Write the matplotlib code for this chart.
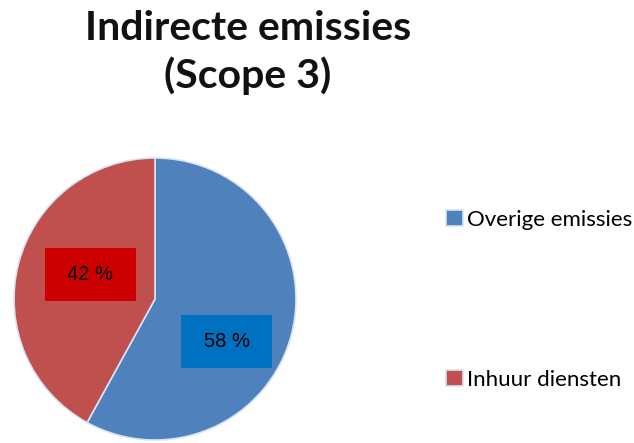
import matplotlib
matplotlib.use("Agg")
import matplotlib.pyplot as plt
from matplotlib.patches import Rectangle

title = "Indirecte emissies\n(Scope 3)"
categories = ["Overige emissies", "Inhuur diensten"]
values = [58, 42]
pct_labels = ["58 %", "42 %"]
colors = ["#4f81bd", "#c0504d"]
box_colors = ["#0070c0", "#cc0000"]

W, H = 634, 443
fig = plt.figure(figsize=(W / 100, H / 100), dpi=100)
fig.patch.set_facecolor("white")

cx, cy, r = 155, 299, 141  # pixel layout of pie (from top)
ax = fig.add_axes([(cx - r) / W, (H - cy - r) / H, 2 * r / W, 2 * r / H])
wedges, _ = ax.pie(values, colors=colors, startangle=90, counterclock=False,
                   radius=1.0, wedgeprops=dict(edgecolor="#d8e4f4", linewidth=1.2))
ax.set_xlim(-1, 1)
ax.set_ylim(-1, 1)
ax.set_aspect("equal")
ax.axis("off")

# label boxes (layout offsets in data units, relative to pie centre)
box_w, box_h = 91 / r, 53 / r
box_centres = [((226.5 - cx) / r, (cy - 341.5) / r), ((90 - cx) / r, (cy - 274.5) / r)]
for (bx, by), lab, bc in zip(box_centres, pct_labels, box_colors):
    ax.add_patch(Rectangle((bx - box_w / 2, by - box_h / 2), box_w, box_h,
                           facecolor=bc, edgecolor="none", zorder=5, clip_on=False))
    ax.text(bx, by, lab, ha="center", va="center", fontsize=14.5,
            family="Liberation Sans", color="black", zorder=6)

fig.text(248 / W, 1 - 52.5 / H, title, ha="center", va="center", fontsize=29.5,
         fontweight="bold", family="Lato", linespacing=1.27, color="#111111")

leg = fig.legend(wedges, categories, loc="upper left",
                 bbox_to_anchor=(446 / W, 1 - 210 / H), frameon=False,
                 prop=dict(family="Lato", size=16), labelspacing=6.3,
                 borderpad=0, borderaxespad=0,
                 handlelength=0.75, handleheight=0.75, handletextpad=0.2)

fig.savefig("out.png", dpi=100)
